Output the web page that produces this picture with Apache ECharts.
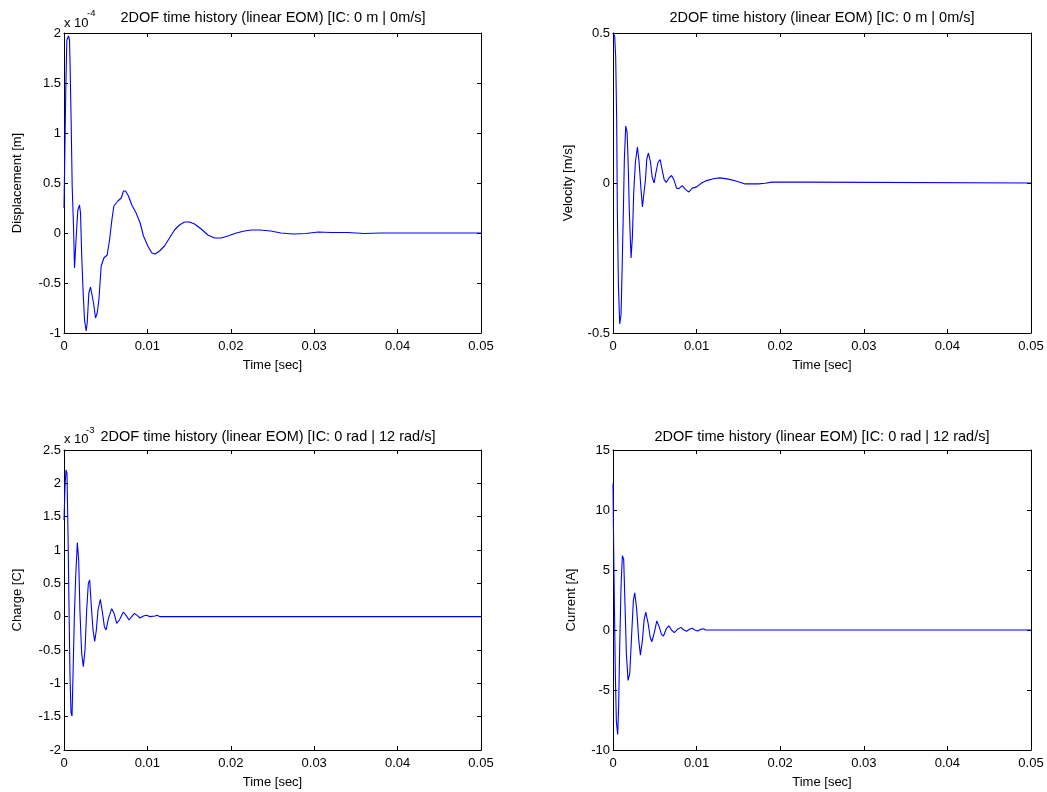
<!DOCTYPE html>
<html>
<head>
<meta charset="utf-8">
<script src="https://cdn.jsdelivr.net/npm/echarts@6/dist/echarts.min.js"></script>
<style>html,body{margin:0;padding:0;background:#fff}#c{width:1047px;height:792px}</style>
</head>
<body>
<div id="c"></div>
<script>
// ---- data ----
var timeTicks = [0, 0.01, 0.02, 0.03, 0.04, 0.05];

// Displacement [m] (x 1e-4)
var dispT = [0, 0.0001, 0.00022, 0.00034, 0.00054, 0.00066, 0.00074, 0.00086, 0.00098, 0.00114, 0.00126, 0.00142, 0.00154, 0.00166, 0.00186, 0.00198, 0.00214, 0.0023, 0.00246, 0.00266, 0.00278, 0.00298, 0.00318, 0.00338, 0.00354, 0.00378, 0.00398, 0.00418, 0.00446, 0.00478, 0.00518, 0.00546, 0.00574, 0.00598, 0.00646, 0.00686, 0.00713, 0.00738, 0.00773, 0.00813, 0.00865, 0.00913, 0.00953, 0.01005, 0.01053, 0.01093, 0.01145, 0.01205, 0.01265, 0.01325, 0.01385, 0.01445, 0.01505, 0.01565, 0.01645, 0.01725, 0.01805, 0.01885, 0.01965, 0.02065, 0.02165, 0.02245, 0.0235, 0.0248, 0.026, 0.0275, 0.029, 0.0305, 0.032, 0.034, 0.036, 0.038, 0.05];
var dispV = [0.25, 0.80, 1.47, 1.93, 1.97, 1.93, 1.63, 1.10, 0.47, 0.07, -0.35, -0.35, 0.07, 0.23, 0.28, 0.20, -0.27, -0.60, -0.87, -0.98, -0.90, -0.60, -0.54, -0.55, -0.70, -0.85, -0.80, -0.67, -0.33, -0.25, -0.22, -0.07, 0.13, 0.27, 0.32, 0.35, 0.42, 0.42, 0.37, 0.28, 0.20, 0.10, -0.03, -0.13, -0.20, -0.21, -0.18, -0.13, -0.05, 0.03, 0.08, 0.11, 0.11, 0.09, 0.04, -0.02, -0.05, -0.05, -0.03, 0.00, 0.02, 0.03, 0.03, 0.02, 0.0, -0.01, -0.005, 0.01, 0.005, 0.005, -0.005, 0, 0];

// Velocity [m/s]
var velT = [0, 0.0002, 0.00032, 0.00044, 0.00052, 0.00064, 0.0008, 0.00096, 0.00108, 0.00124, 0.00136, 0.00152, 0.00168, 0.0018, 0.00196, 0.00216, 0.00232, 0.00248, 0.00268, 0.00292, 0.00312, 0.00332, 0.00352, 0.00372, 0.00388, 0.00404, 0.00424, 0.00448, 0.00468, 0.00492, 0.00512, 0.0054, 0.00564, 0.00588, 0.00612, 0.00636, 0.00668, 0.007, 0.00728, 0.0076, 0.00788, 0.00828, 0.00868, 0.00908, 0.00948, 0.01, 0.0106, 0.0112, 0.012, 0.0128, 0.0138, 0.0148, 0.0158, 0.0174, 0.0182, 0.019, 0.023, 0.05];
var velV = [0.5, 0.49, 0.42, 0.21, -0.09, -0.33, -0.47, -0.44, -0.30, -0.09, 0.08, 0.19, 0.17, 0.08, -0.10, -0.25, -0.18, -0.03, 0.07, 0.12, 0.07, -0.01, -0.08, -0.08, 0.01, 0.08, 0.10, 0.07, 0.02, 0.0, 0.033, 0.07, 0.078, 0.044, 0.011, 0.002, 0.016, 0.025, 0.011, -0.017, -0.019, -0.009, -0.022, -0.03, -0.017, -0.013, 0.0, 0.008, 0.014, 0.017, 0.013, 0.006, -0.003, -0.003, -0.001, 0.003, 0.003, 0.0];

// Charge [C] (x 1e-3)
var chgT = [0, 0.00012, 0.00024, 0.00036, 0.00048, 0.0006, 0.00072, 0.00084, 0.00096, 0.00108, 0.00124, 0.0014, 0.0016, 0.00176, 0.00192, 0.00212, 0.00232, 0.00252, 0.00272, 0.00292, 0.00308, 0.00328, 0.00348, 0.00368, 0.00388, 0.00408, 0.00436, 0.0046, 0.00484, 0.00504, 0.00532, 0.00572, 0.006, 0.00632, 0.00664, 0.00712, 0.00744, 0.0078, 0.00812, 0.00844, 0.00876, 0.00912, 0.00952, 0.00992, 0.01032, 0.01092, 0.01116, 0.01152, 0.05];
var chgV = [1.45, 1.95, 2.2, 2.15, 1.25, 0.15, -0.89, -1.44, -1.49, -0.89, 0.0, 0.6, 1.11, 0.85, 0.05, -0.55, -0.75, -0.5, 0.1, 0.5, 0.55, 0.15, -0.2, -0.37, -0.2, 0.1, 0.26, 0.07, -0.15, -0.2, -0.03, 0.12, 0.05, -0.1, -0.05, 0.07, 0.02, -0.05, 0.0, 0.05, 0.02, -0.02, 0.01, 0.02, 0.0, 0.01, 0.02, 0.0, 0.0];

// Current [A]
var curT = [0, 0.00005, 0.00016, 0.00028, 0.0004, 0.00056, 0.00068, 0.0008, 0.00096, 0.00112, 0.00128, 0.00144, 0.0016, 0.0018, 0.002, 0.0022, 0.00244, 0.0026, 0.00284, 0.00308, 0.00328, 0.00352, 0.00372, 0.00392, 0.0042, 0.00444, 0.00464, 0.00492, 0.00524, 0.00552, 0.0058, 0.00604, 0.0064, 0.00668, 0.007, 0.00732, 0.00772, 0.00812, 0.00848, 0.0088, 0.0092, 0.00948, 0.0098, 0.01012, 0.01052, 0.0108, 0.01108, 0.05];
var curV = [12.2, 8.7, 2.5, -3.66, -7.6, -8.7, -6.2, -1.4, 3.6, 6.2, 5.9, 2.0, -1.97, -4.2, -3.66, -0.84, 2.5, 3.1, 1.7, -0.84, -2.1, -0.84, 0.84, 1.49, 0.56, -0.56, -0.98, -0.28, 0.76, 0.28, -0.37, -0.5, 0.14, 0.34, 0.0, -0.22, 0.06, 0.22, 0.0, -0.11, 0.08, 0.14, 0.0, -0.08, 0.06, 0.11, 0.0, 0.0];

var titleLin = "2DOF time history (linear EOM) [IC: 0 m | 0m/s]";
var titleRot = "2DOF time history (linear EOM) [IC: 0 rad | 12 rad/s]";

// ---- chart ----
var FONT = "'Liberation Sans', Arial, sans-serif";
function pairs(t, v) { var a = []; for (var i = 0; i < t.length; i++) a.push([t[i], v[i]]); return a; }
function fmtNum(v) { var r = Math.round(v * 1000) / 1000; return r === 0 ? '0' : String(r); }

var plots = [
  {grid: {left: 64, top: 33, width: 417, height: 300}, ymin: -1, ymax: 2, yint: 0.5, yname: 'Displacement [m]', ygap: 40, t: dispT, v: dispV},
  {grid: {left: 613, top: 33, width: 418, height: 300}, ymin: -0.5, ymax: 0.5, yint: 0.5, yname: 'Velocity [m/s]', ygap: 38, t: velT, v: velV},
  {grid: {left: 64, top: 450, width: 417, height: 300}, ymin: -2, ymax: 2.5, yint: 0.5, yname: 'Charge [C]', ygap: 40, t: chgT, v: chgV},
  {grid: {left: 613, top: 450, width: 418, height: 300}, ymin: -10, ymax: 15, yint: 5, yname: 'Current [A]', ygap: 35, t: curT, v: curV}
];

var grids = [], xAxes = [], yAxes = [], series = [];
var black = {color: '#000', width: 1};
plots.forEach(function (p, i) {
  grids.push(p.grid);
  var xBase = {type: 'value', gridIndex: i, min: 0, max: 0.05, interval: 0.01,
    axisLine: {show: true, onZero: false, lineStyle: black},
    axisTick: {show: true, inside: true, length: 4, lineStyle: black},
    splitLine: {show: false}};
  xAxes.push(Object.assign({}, xBase, {position: 'bottom',
    axisLabel: {show: true, fontSize: 13, color: '#000', fontFamily: FONT, margin: 7, formatter: fmtNum, showMinLabel: true, showMaxLabel: true},
    name: 'Time [sec]', nameLocation: 'middle', nameGap: 26,
    nameTextStyle: {fontSize: 13, color: '#000', fontFamily: FONT}}));
  xAxes.push(Object.assign({}, xBase, {position: 'top', axisLabel: {show: false}}));
  var yBase = {type: 'value', gridIndex: i, min: p.ymin, max: p.ymax, interval: p.yint,
    axisLine: {show: true, onZero: false, lineStyle: black},
    axisTick: {show: true, inside: true, length: 4, lineStyle: black},
    splitLine: {show: false}};
  yAxes.push(Object.assign({}, yBase, {position: 'left',
    axisLabel: {show: true, fontSize: 13, color: '#000', fontFamily: FONT, margin: 3, formatter: fmtNum, showMinLabel: true, showMaxLabel: true},
    name: p.yname, nameLocation: 'middle', nameGap: p.ygap,
    nameTextStyle: {fontSize: 13, color: '#000', fontFamily: FONT}}));
  yAxes.push(Object.assign({}, yBase, {position: 'right', axisLabel: {show: false}}));
  series.push({type: 'line', xAxisIndex: 2 * i, yAxisIndex: 2 * i, data: pairs(p.t, p.v),
    showSymbol: false, symbol: 'none', lineStyle: {color: '#0000ff', width: 1.1}, itemStyle: {color: '#0000ff'},
    clip: true, silent: true});
});

function txt(x, y, s, size, align) {
  return {type: 'text', x: x, y: y, silent: true,
    style: {text: s, fill: '#000', font: size + 'px ' + FONT, textAlign: align || 'left', textVerticalAlign: 'middle'}};
}

var graphics = [
  txt(273, 18, titleLin, 14.5, 'center'),
  txt(822, 18, titleLin, 14.5, 'center'),
  txt(268, 437, titleRot, 14.5, 'center'),
  txt(822, 437, titleRot, 14.5, 'center'),
  txt(64, 23, 'x 10', 13, 'left'),
  txt(87, 13, '-4', 9.5, 'left'),
  txt(64, 439, 'x 10', 13, 'left'),
  txt(86, 430, '-3', 9.5, 'left')
];

var chart = echarts.init(document.getElementById('c'), null, {renderer: 'canvas'});
chart.setOption({
  animation: false,
  backgroundColor: '#fff',
  textStyle: {fontFamily: FONT},
  grid: grids, xAxis: xAxes, yAxis: yAxes, series: series,
  graphic: graphics
});
</script>
</body>
</html>
